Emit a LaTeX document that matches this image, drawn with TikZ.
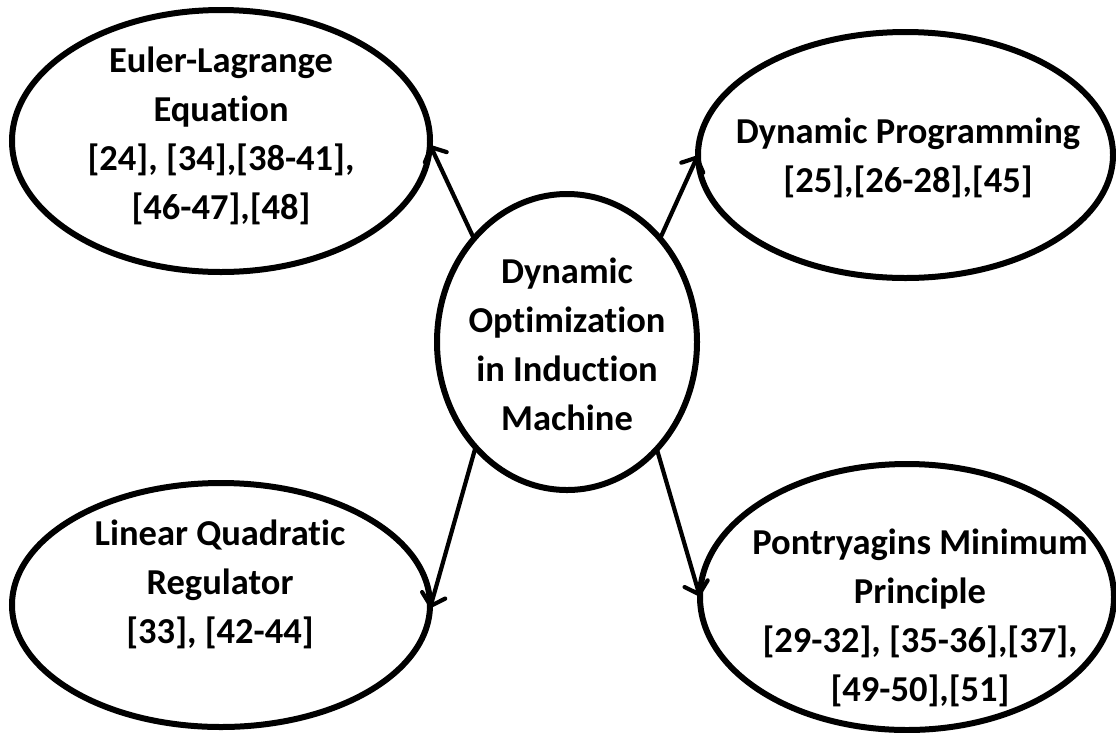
\documentclass[tikz,border=0pt]{standalone}
\usepackage{fontspec}
\setmainfont{Carlito}[RawFeature={-liga}]
\usetikzlibrary{arrows.meta,shapes.geometric}
\begin{document}
\begin{tikzpicture}[x=1pt,y=-1pt,
  oval/.style={ellipse, draw, line width=6pt, inner sep=0pt, outer sep=0pt},
  lbl/.style={align=center, font=\fontsize{36.5}{49}\selectfont\bfseries, inner sep=0pt},
  conn/.style={line width=4.2pt, line cap=round,
    -{Straight Barb[length=11pt,width=24pt,line cap=round]}}]
\useasboundingbox[fill=white] (0,0) rectangle (1116,732);
% ellipses
\node[oval, minimum width=418pt, minimum height=262pt] (el) at (221,141) {};
\node[oval, minimum width=415pt, minimum height=246pt] (dp) at (905.5,155) {};
\node[oval, minimum width=260pt, minimum height=296pt] (c) at (567,342) {};
\node[oval, minimum width=418pt, minimum height=244pt] (lq) at (221,605) {};
\node[oval, minimum width=414pt, minimum height=266pt] (pm) at (907,597) {};
% texts
\node[lbl] (elt) at (221,135.5) {Euler-Lagrange\\Equation\\{[24], [34],[38-41],}\\{[46-47],[48]}};
\node[lbl] (dpt) at (908,158) {Dynamic Programming\\{[25],[26-28],[45]}};
\node[lbl] (ct) at (567,344) {Dynamic\\Optimization\\in Induction\\Machine};
\node[lbl] (lqt) at (220,584) {Linear Quadratic\\Regulator\\{[33], [42-44]}};
\node[lbl] (pmt) at (920,618) {Pontryagins Minimum\\Principle\\{[29-32], [35-36],[37],}\\{[49-50],[51]}};
% connectors
\draw[conn] (c.132) -- (el.-1);
\draw[conn] (c.48.5) -- (dp.180);
\draw[conn] (c.229) -- (lq.-1);
\draw[conn] (c.-50) -- (pm.180);
\end{tikzpicture}
\end{document}
